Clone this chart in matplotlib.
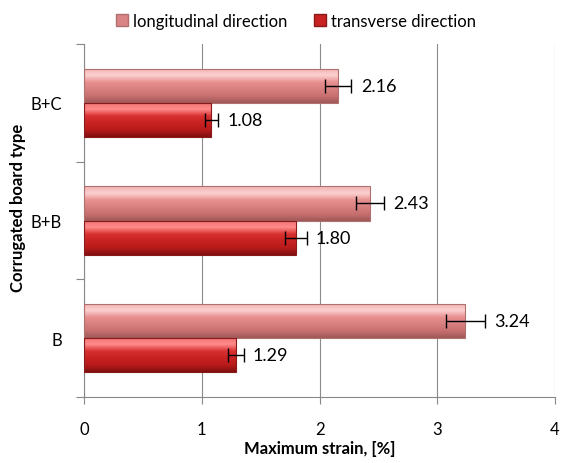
import numpy as np
import matplotlib
matplotlib.use('Agg')
import matplotlib.pyplot as plt
from matplotlib.colors import LinearSegmentedColormap
from matplotlib.patches import Rectangle

plt.rcParams['font.family'] = ['Lato', 'DejaVu Sans']

# data
types = ['B', 'B+B', 'B+C']
longitudinal = [3.24, 2.43, 2.16]
long_err = [0.165, 0.12, 0.11]
transverse = [1.29, 1.80, 1.08]
trans_err = [0.065, 0.09, 0.055]
series_names = ['longitudinal direction', 'transverse direction']

fig = plt.figure(figsize=(5.64, 4.64), dpi=100)
ax = fig.add_axes([0.149, 0.142, 0.835, 0.761])

h = 0.29
y = np.arange(len(types)) + 0.5

# gradient colormaps (top -> bottom)
cm_long = LinearSegmentedColormap.from_list('l', ['#f2b0b0', '#fcd0d0', '#e89090', '#d88080', '#c87070', '#a05858'])
cm_trans = LinearSegmentedColormap.from_list('t', ['#f07070', '#ff8a8a', '#d83030', '#c82222', '#b81a1a', '#801010'])
grad = np.linspace(0, 1, 100).reshape(-1, 1)

def gradient_bars(ys, vals, cmap, edge):
    bars = ax.barh(ys, vals, height=h, color='none', edgecolor=edge, linewidth=0.8, zorder=3)
    for b in bars:
        x0, y0 = b.get_x(), b.get_y()
        w, hh = b.get_width(), b.get_height()
        im = ax.imshow(grad, cmap=cmap, aspect='auto', extent=[x0, x0 + w, y0, y0 + hh],
                       origin='upper', zorder=2)
        im.set_clip_path(b)
    return bars

gradient_bars(y + h / 2, longitudinal, cm_long, '#b07070')
gradient_bars(y - h / 2, transverse, cm_trans, '#8a1a1a')

ax.errorbar(longitudinal, y + h / 2, xerr=long_err, fmt='none', ecolor='black',
            elinewidth=1, capsize=5, capthick=1, zorder=4)
ax.errorbar(transverse, y - h / 2, xerr=trans_err, fmt='none', ecolor='black',
            elinewidth=1, capsize=5, capthick=1, zorder=4)

for v, e, yy in zip(longitudinal, long_err, y + h / 2):
    ax.text(v + e + 0.08, yy, f'{v:.2f}', va='center', ha='left', fontsize=13)
for v, e, yy in zip(transverse, trans_err, y - h / 2):
    ax.text(v + e + 0.08, yy, f'{v:.2f}', va='center', ha='left', fontsize=13)

ax.set_xlim(0, 4)
ax.set_ylim(0, 3)
ax.set_xticks([0, 1, 2, 3, 4])
ax.tick_params(axis='x', labelsize=12, color='#888888', length=5, pad=12)
ax.set_yticks([0, 1, 2, 3])
ax.set_yticklabels([])
ax.set_yticks(y, minor=True)
ax.set_yticklabels(types, minor=True, fontsize=12)
ax.tick_params(axis='y', which='major', color='#888888', length=6)
ax.tick_params(axis='y', which='minor', length=0, pad=16)

ax.grid(axis='x', color='#8c8c8c', linewidth=0.8, zorder=0)
ax.set_axisbelow(True)
for s in ['top', 'right']:
    ax.spines[s].set_visible(False)
for s in ['left', 'bottom']:
    ax.spines[s].set_color('#888888')

ax.set_xlabel('Maximum strain, [%]', fontsize=12, fontweight='bold')
ax.xaxis.set_label_coords(0.5, -0.122)
ax.set_ylabel('Corrugated board type', fontsize=12, fontweight='bold')
ax.yaxis.set_label_coords(-0.123, 0.54)

handles = [Rectangle((0, 0), 1, 1, facecolor='#d98585', edgecolor='#b07070'),
           Rectangle((0, 0), 1, 1, facecolor='#c82222', edgecolor='#8a1a1a')]
fig.legend(handles, series_names, loc='center', bbox_to_anchor=(0.525, 0.953), ncol=2,
           frameon=False, fontsize=12, handlelength=0.7, handleheight=0.7,
           handletextpad=0.3, columnspacing=1.6)

fig.savefig('out.png', dpi=100)
